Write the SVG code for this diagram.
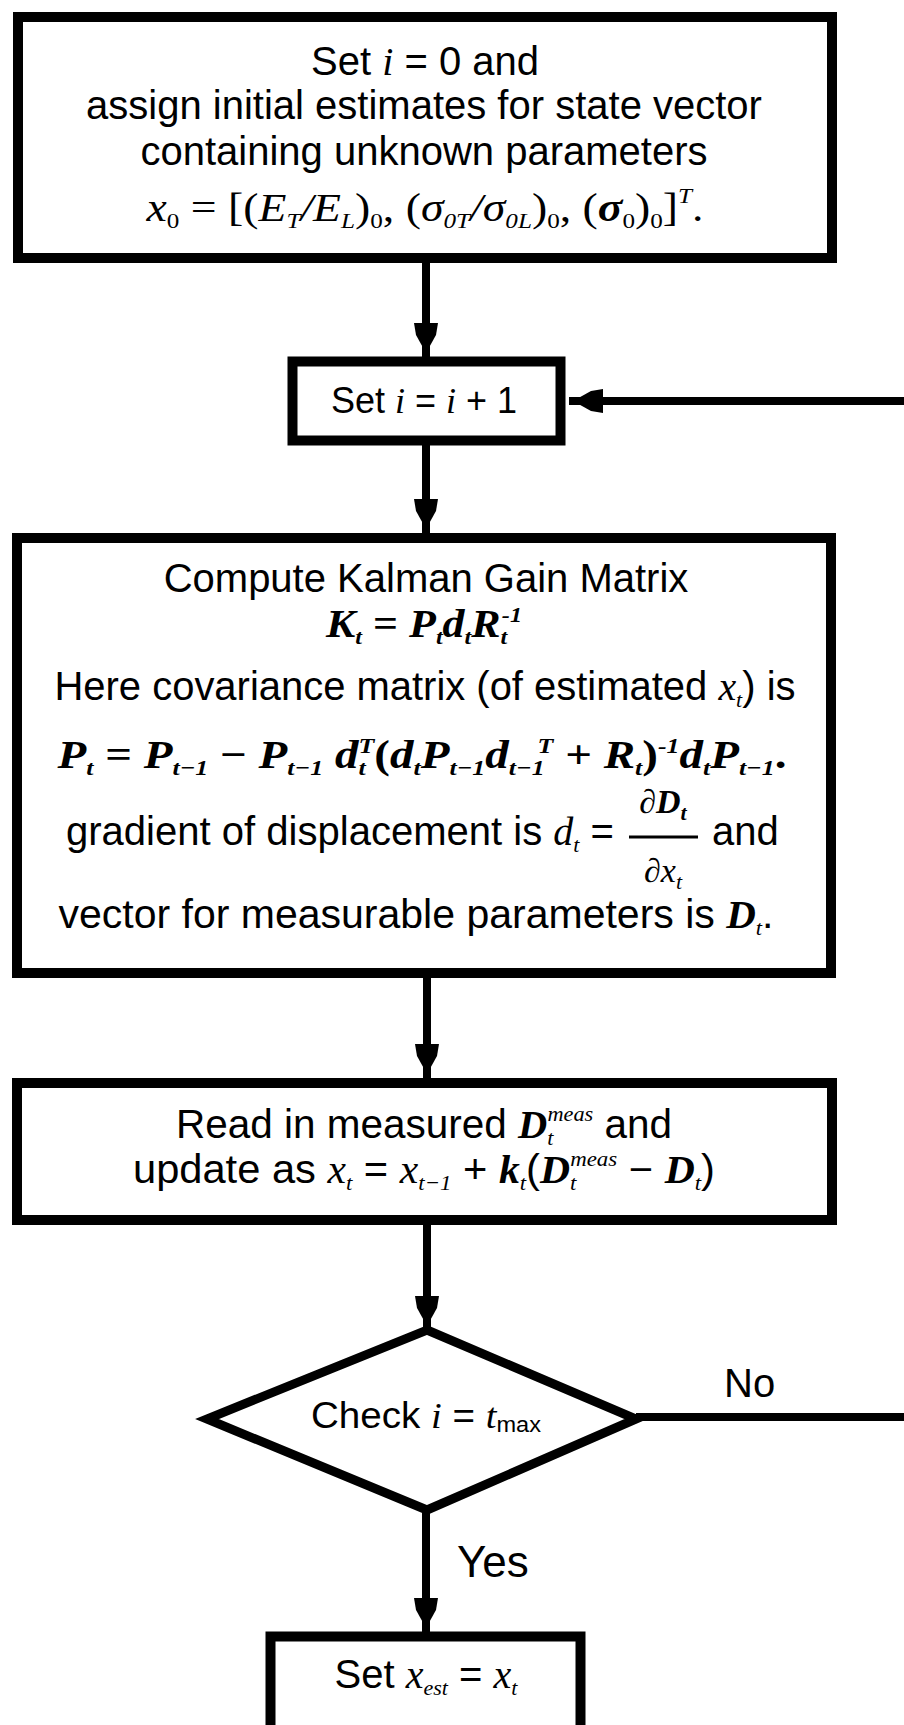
<svg xmlns="http://www.w3.org/2000/svg" width="904" height="1725" viewBox="0 0 904 1725">
<style>
.box{fill:#fff;stroke:#000;stroke-width:10}
.con{fill:none;stroke:#000;stroke-width:8}
.t{font-family:"Liberation Sans",Arial,sans-serif;font-size:40px;fill:#000;text-anchor:middle}
.st{text-anchor:start}
.m{font-family:"Liberation Serif","Times New Roman",serif;font-style:italic}
.mb{font-family:"Liberation Serif","Times New Roman",serif;font-style:italic;font-weight:bold}
.up{font-style:normal}
.s{font-size:22px}
</style>
<defs>
<marker id="ah" markerUnits="userSpaceOnUse" viewBox="0 0 36 26" markerWidth="36" markerHeight="26" refX="34" refY="13" orient="auto">
<path d="M0,1 L12,3 L30,13 L12,23 L0,25 Z" fill="#000"/>
</marker>
</defs>
<rect width="904" height="1725" fill="#fff"/>
<g id="connectors">
<path class="con" d="M426,263 L426,357" marker-end="url(#ah)"/>
<path class="con" d="M426,445 L426,533" marker-end="url(#ah)"/>
<path class="con" d="M427,978 L427,1078" marker-end="url(#ah)"/>
<path class="con" d="M427,1225 L427,1330" marker-end="url(#ah)"/>
<path class="con" d="M426,1510 L426,1632" marker-end="url(#ah)"/>
<path class="con" d="M636,1417 L925,1417 L925,401 L569,401" marker-end="url(#ah)"/>
<text class="t st" x="724" y="1397" font-size="42">No</text>
<text class="t st" x="457" y="1577" style="font-size:44px">Yes</text>
</g>
<g id="n1">
<rect class="box" x="18" y="17" width="814" height="241"/>
<text class="t" x="425" y="75">Set <tspan class="m">i</tspan> = 0 and</text>
<text class="t" x="424" y="119">assign initial estimates for state vector</text>
<text class="t" x="424" y="165">containing unknown parameters</text>
<text class="t m" x="425" y="221" textLength="557" lengthAdjust="spacingAndGlyphs">x<tspan class="s up" dy="7">0</tspan><tspan class="up" dy="-7"> = [(</tspan>E<tspan class="s" dy="7">T</tspan><tspan dy="-7">/E</tspan><tspan class="s" dy="7">L</tspan><tspan class="up" dy="-7">)</tspan><tspan class="s up" dy="7">0</tspan><tspan class="up" dy="-7">, (</tspan>σ<tspan class="s" dy="7">0T</tspan><tspan dy="-7">/σ</tspan><tspan class="s" dy="7">0L</tspan><tspan class="up" dy="-7">)</tspan><tspan class="s up" dy="7">0</tspan><tspan class="up" dy="-7">, (</tspan><tspan font-weight="bold">σ</tspan><tspan class="s up" dy="7">0</tspan><tspan class="up" dy="-7">)</tspan><tspan class="s up" dy="7">0</tspan><tspan class="up" dy="-7">]</tspan><tspan class="s" dy="-18">T</tspan><tspan class="up" dy="18">.</tspan></text>
</g>
<g id="n2">
<rect class="box" x="292.5" y="361.5" width="268" height="79"/>
<text class="t" x="424" y="413" style="font-size:36px">Set <tspan class="m">i</tspan> = <tspan class="m">i</tspan> + 1</text>
</g>
<g id="n3">
<rect class="box" x="17" y="538" width="814" height="435"/>
<text class="t" x="426" y="592">Compute Kalman Gain Matrix</text>
<text class="t mb" x="424" y="637" textLength="196" lengthAdjust="spacingAndGlyphs">K<tspan class="s" dy="7">t</tspan><tspan class="up" dy="-7"> = </tspan>P<tspan class="s" dy="7">t</tspan><tspan dy="-7">d</tspan><tspan class="s" dy="7">t</tspan><tspan dy="-7">R</tspan><tspan class="s" dy="7">t</tspan><tspan class="s" dx="-5" dy="-22">-1</tspan></text>
<text class="t" x="425" y="700" textLength="741" lengthAdjust="spacingAndGlyphs">Here covariance matrix (of estimated <tspan class="m">x</tspan><tspan class="m s" dy="7">t</tspan><tspan dy="-7">) is</tspan></text>
<text class="t mb" x="422" y="768" textLength="729" lengthAdjust="spacingAndGlyphs">P<tspan class="s" dy="7">t</tspan><tspan class="up" dy="-7"> = </tspan>P<tspan class="s" dy="7">t−1</tspan><tspan class="up" dy="-7"> − </tspan>P<tspan class="s" dy="7">t−1</tspan><tspan dy="-7"> d</tspan><tspan class="s" dy="7">t</tspan><tspan class="s" dx="-6" dy="-22">T</tspan><tspan class="up" dy="15">(</tspan>d<tspan class="s" dy="7">t</tspan><tspan dy="-7">P</tspan><tspan class="s" dy="7">t−1</tspan><tspan dy="-7">d</tspan><tspan class="s" dy="7">t−1</tspan><tspan class="s" dx="-6" dy="-22">T</tspan><tspan class="up" dy="15"> + </tspan>R<tspan class="s" dy="7">t</tspan><tspan class="up" dy="-7">)</tspan><tspan class="s" dy="-15">-1</tspan><tspan dy="15">d</tspan><tspan class="s" dy="7">t</tspan><tspan dy="-7">P</tspan><tspan class="s" dy="7">t−1</tspan><tspan class="up" dy="-7">.</tspan></text>
<text class="t st" x="66" y="845" textLength="548" lengthAdjust="spacingAndGlyphs">gradient of displacement is <tspan class="m">d</tspan><tspan class="m s" dy="7">t</tspan><tspan dy="-7"> =</tspan></text>
<text class="t mb" x="663" y="813" style="font-size:34px">∂D<tspan class="s" dy="7">t</tspan></text>
<line x1="629" y1="837" x2="698" y2="837" stroke="#000" stroke-width="3"/>
<text class="t m" x="663" y="882" style="font-size:34px">∂x<tspan class="s" dy="7">t</tspan></text>
<text class="t st" x="712" y="845">and</text>
<text class="t" x="416" y="928" textLength="715" lengthAdjust="spacingAndGlyphs">vector for measurable parameters is <tspan class="mb">D</tspan><tspan class="m s" dy="7">t</tspan><tspan dy="-7">.</tspan></text>
</g>
<g id="n4">
<rect class="box" x="17" y="1083" width="815" height="137"/>
<text class="t" x="424" y="1138" textLength="496" lengthAdjust="spacingAndGlyphs">Read in measured <tspan class="mb">D</tspan><tspan class="m s" dy="7">t</tspan><tspan class="m s" dx="-6" dy="-24">meas</tspan><tspan dy="17"> and</tspan></text>
<text class="t" x="424" y="1183" textLength="582" lengthAdjust="spacingAndGlyphs">update as <tspan class="m">x</tspan><tspan class="m s" dy="7">t</tspan><tspan dy="-7"> = </tspan><tspan class="m">x</tspan><tspan class="m s" dy="7">t−1</tspan><tspan dy="-7"> + </tspan><tspan class="mb">k</tspan><tspan class="m s" dy="7">t</tspan><tspan dy="-7">(</tspan><tspan class="mb">D</tspan><tspan class="m s" dy="7">t</tspan><tspan class="m s" dx="-6" dy="-24">meas</tspan><tspan dy="17"> − </tspan><tspan class="mb">D</tspan><tspan class="m s" dy="7">t</tspan><tspan dy="-7">)</tspan></text>
</g>
<g id="n5">
<polygon points="427,1330 636,1419 427,1510 207,1419" fill="#fff" stroke="#000" stroke-width="9" stroke-linejoin="miter"/>
<text class="t" x="426" y="1428" style="font-size:36px" textLength="230" lengthAdjust="spacingAndGlyphs">Check <tspan class="m">i</tspan> = <tspan class="m">t</tspan><tspan class="s" dy="4">max</tspan></text>
</g>
<g id="n6">
<rect class="box" x="270.5" y="1636.5" width="310" height="150" stroke-width="9"/>
<text class="t" x="426" y="1688" textLength="183" lengthAdjust="spacingAndGlyphs">Set <tspan class="m">x</tspan><tspan class="m s" dy="7">est</tspan><tspan dy="-7"> = </tspan><tspan class="m">x</tspan><tspan class="m s" dy="7">t</tspan></text>
</g>
</svg>
